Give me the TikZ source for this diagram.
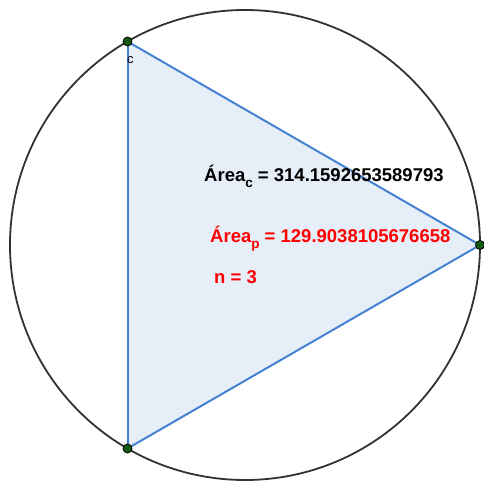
\documentclass[tikz,border=0pt]{standalone}
\usepackage{fontspec}
\setmainfont{Liberation Sans}
\usetikzlibrary{positioning}
\definecolor{edgeblue}{RGB}{70,130,210}
\definecolor{fillblue}{RGB}{230,238,248}
\definecolor{ptgreen}{RGB}{20,90,20}
\definecolor{circgray}{RGB}{50,50,50}
\newcommand{\lowsub}[1]{\raisebox{-6pt}{\fontsize{13.5}{15}\selectfont #1}}
\tikzset{
    vertex/.style={circle, draw=black, fill=ptgreen, line width=0.8pt, inner sep=0pt, minimum size=9pt},
    side/.style={draw=edgeblue, line width=2pt},
    info/.style={anchor=base west, inner sep=0pt, font=\bfseries\fontsize{18.5}{21}\selectfont}
}
\begin{document}
\begin{tikzpicture}[x=1pt, y=-1pt]
    \useasboundingbox (0,0) rectangle (483,484);
    \draw[circgray, line width=1.8pt] (245,245) circle[radius=235];

    \coordinate (A) at (127.5,41.5);
    \coordinate (B) at (480,245);
    \coordinate (C) at (127.5,448.5);
    \fill[fillblue] (A) -- (B) -- (C) -- cycle;
    \draw[side] (A) -- (B);
    \draw[side] (B) -- (C);
    \draw[side] (C) -- (A);

    \node[vertex] (vA) at (A) {};
    \node[vertex] (vB) at (B) {};
    \node[vertex] (vC) at (C) {};
    \node[anchor=base west, inner sep=0pt, font=\fontsize{13}{15}\selectfont] (lc) at (127,64) {c};

    \node[info] (areac) at (204,181) {Área\lowsub{c} = 314.1592653589793};
    \node[info, red] (areap) at (210,242) {Área\lowsub{p} = 129.9038105676658};
    \node[info, red] (nval) at (214,283) {n = 3};
\end{tikzpicture}
\end{document}
